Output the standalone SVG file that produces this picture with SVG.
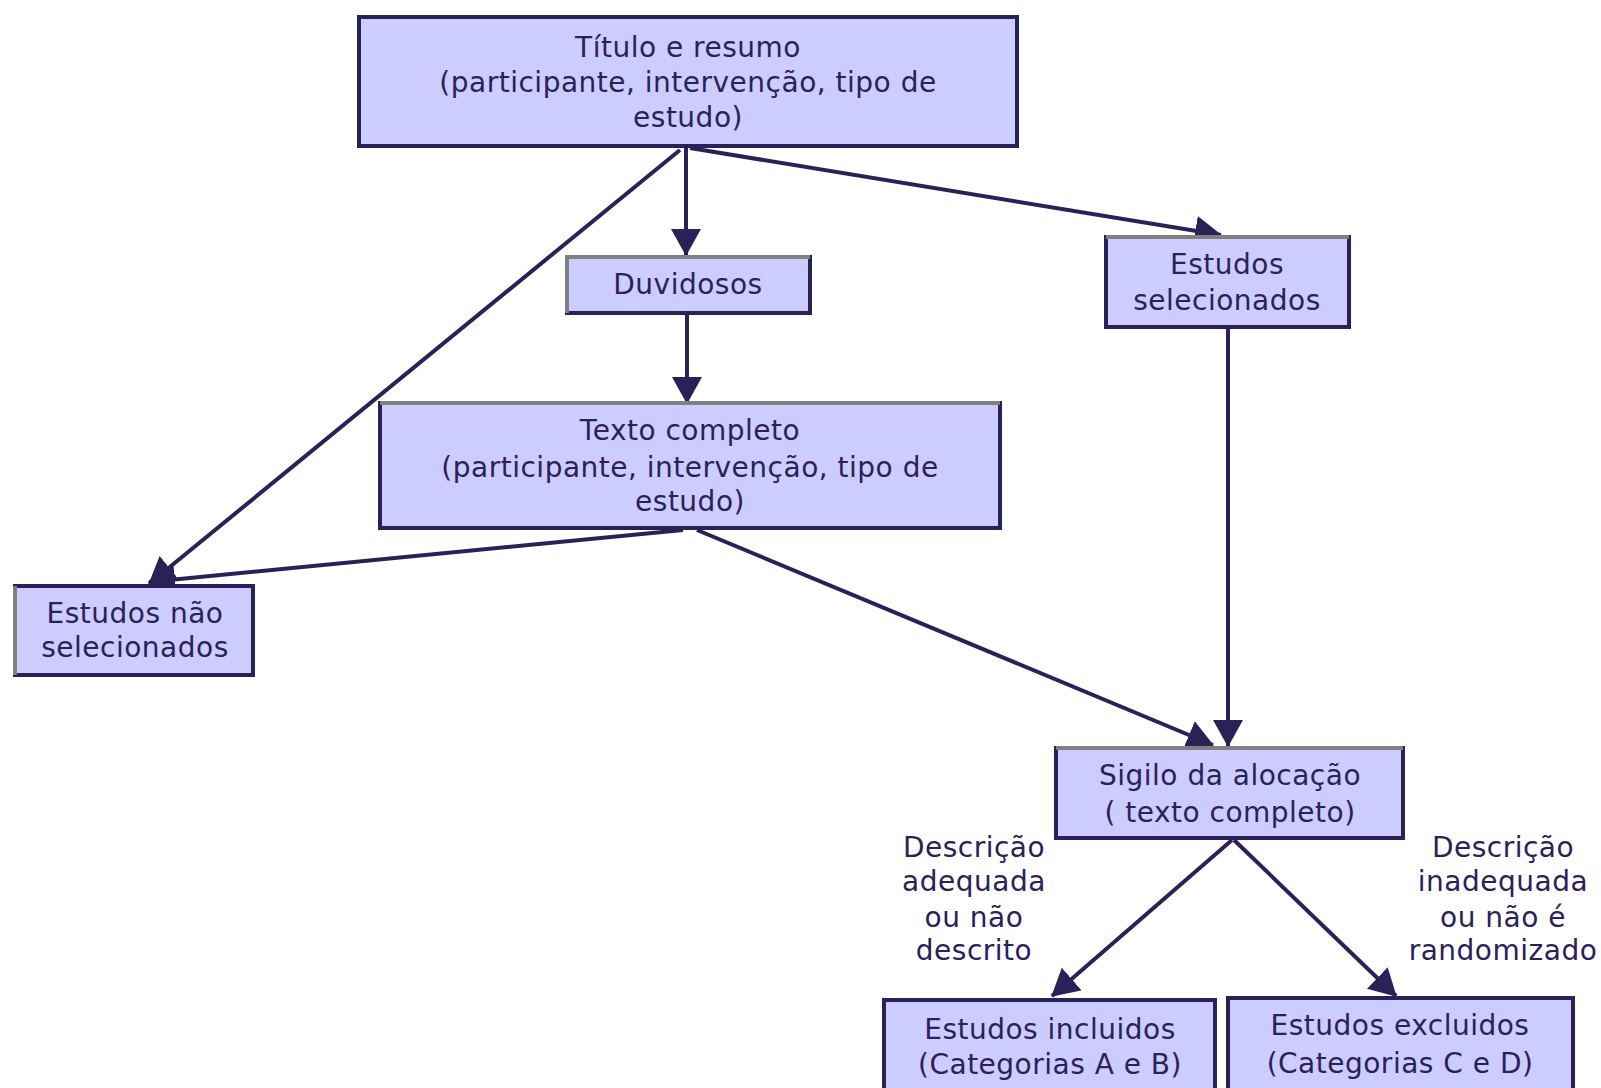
<svg xmlns="http://www.w3.org/2000/svg" width="1601" height="1088" viewBox="0 0 1601 1088">
<style>
.box{fill:#CCCCFF;stroke:#2B2159;stroke-width:4}
.hl{stroke:#808080;stroke-width:4;fill:none}
text{font-family:"DejaVu Sans","Verdana",sans-serif;font-size:28px;fill:#2B2159;text-anchor:middle;letter-spacing:0.5px}
.conn line{stroke:#2B2159;stroke-width:4;marker-end:url(#arr)}
</style>
<defs>
<marker id="arr" viewBox="0 0 27 30" refX="26" refY="15" markerWidth="27" markerHeight="30" markerUnits="userSpaceOnUse" orient="auto">
<path d="M0,0 L27,15 L0,30 z" fill="#2B2159"/>
</marker>
</defs>
<rect width="1601" height="1088" fill="#FFFFFF"/>

<g id="connectors" class="conn">
<line x1="686" y1="148" x2="686" y2="255"/>
<line x1="687" y1="315" x2="687" y2="403"/>
<line x1="680" y1="150" x2="149" y2="584"/>
<line x1="690" y1="148" x2="1221" y2="235"/>
<line x1="683" y1="530" x2="149" y2="582"/>
<line x1="697" y1="530" x2="1213" y2="745"/>
<line x1="1228" y1="329" x2="1228" y2="746"/>
<line x1="1232" y1="840" x2="1052" y2="996"/>
<line x1="1234" y1="840" x2="1396" y2="996"/>
</g>

<g id="n-titulo">
<rect class="box" x="359" y="17" width="658" height="129"/>
<text x="688" y="57">Título e resumo</text>
<text x="688" y="92">(participante, intervenção, tipo de</text>
<text x="688" y="127">estudo)</text>
</g>

<g id="n-duvidosos">
<rect class="box" x="567" y="257" width="243" height="56"/>
<path class="hl" d="M567,313 V257 H810"/>
<text x="688" y="294">Duvidosos</text>
</g>

<g id="n-selecionados">
<rect class="box" x="1106" y="237" width="243" height="90"/>
<path class="hl" d="M1106,237 H1349"/>
<text x="1227" y="274">Estudos</text>
<text x="1227" y="310">selecionados</text>
</g>

<g id="n-texto">
<rect class="box" x="380" y="403" width="620" height="125"/>
<path class="hl" d="M380,403 H1000"/>
<text x="690" y="440">Texto completo</text>
<text x="690" y="477">(participante, intervenção, tipo de</text>
<text x="690" y="511">estudo)</text>
</g>

<g id="n-nao-selecionados">
<rect class="box" x="15" y="586" width="238" height="89"/>
<path class="hl" d="M15,675 V586"/>
<text x="135" y="623">Estudos não</text>
<text x="135" y="657">selecionados</text>
</g>

<g id="n-sigilo">
<rect class="box" x="1056" y="748" width="347" height="90"/>
<path class="hl" d="M1056,748 H1403"/>
<text x="1230" y="785">Sigilo da alocação</text>
<text x="1230" y="822">( texto completo)</text>
</g>

<g id="n-incluidos">
<rect class="box" x="884" y="1000" width="331" height="100"/>
<text x="1050" y="1039">Estudos incluidos</text>
<text x="1050" y="1074">(Categorias A e B)</text>
</g>

<g id="n-excluidos">
<rect class="box" x="1228" y="998" width="345" height="102"/>
<text x="1400" y="1035">Estudos excluidos</text>
<text x="1400" y="1073">(Categorias C e D)</text>
</g>

<g id="label-adequada">
<text x="974" y="857">Descrição</text>
<text x="974" y="891">adequada</text>
<text x="974" y="927">ou não</text>
<text x="974" y="960">descrito</text>
</g>

<g id="label-inadequada">
<text x="1503" y="857">Descrição</text>
<text x="1503" y="891">inadequada</text>
<text x="1503" y="927">ou não é</text>
<text x="1503" y="960">randomizado</text>
</g>
</svg>
